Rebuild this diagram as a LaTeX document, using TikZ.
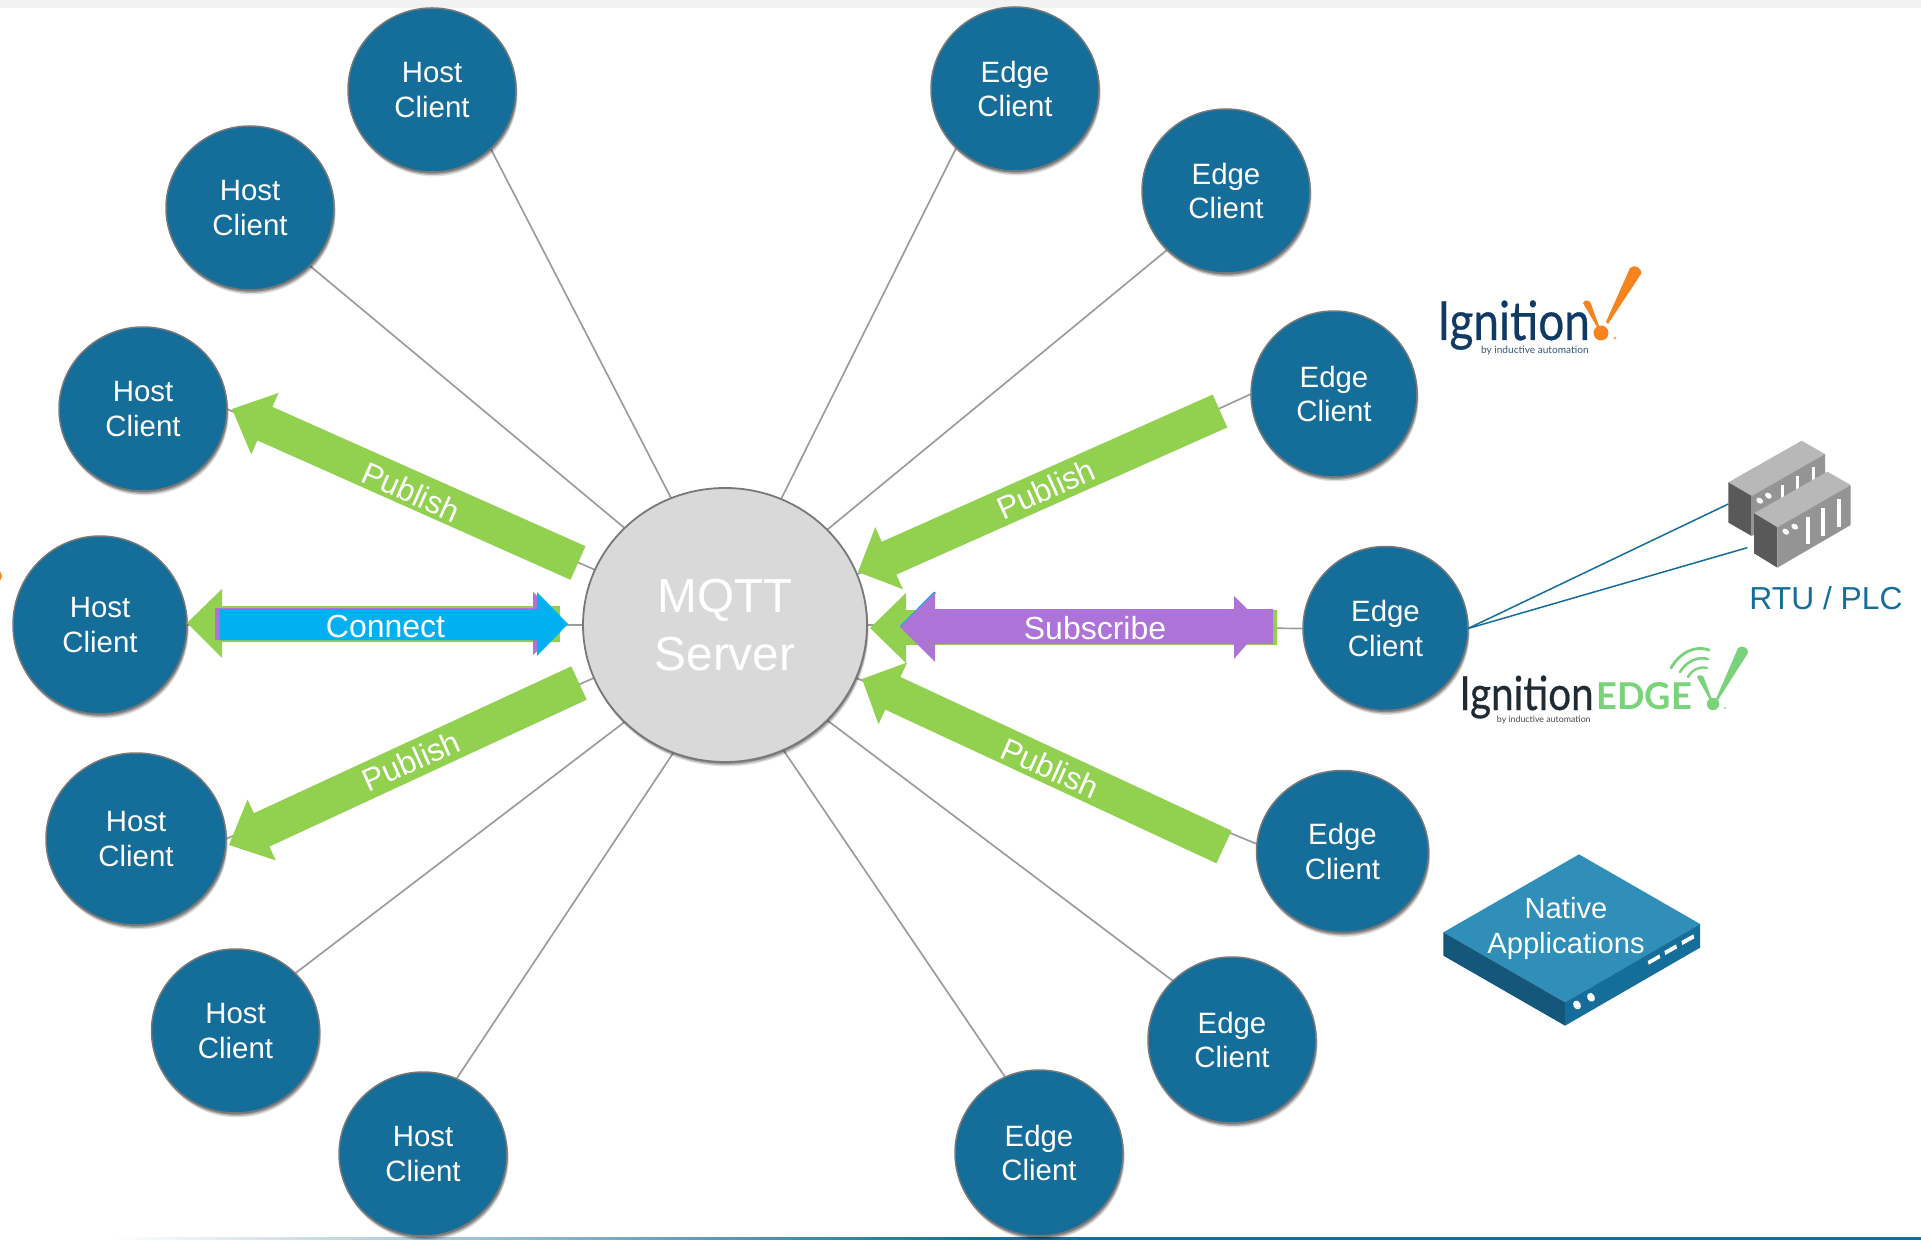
\documentclass[tikz,border=0pt]{standalone}
\usepackage{fontspec}
\usepackage{graphicx}
\setmainfont{Liberation Sans}
\newfontfamily\logofont[FakeBold=0.5]{Lato}
\newfontfamily\edgefont{Lato}
\usetikzlibrary{calc,shapes.geometric,shadows,backgrounds}
\definecolor{clientblue}{HTML}{156D99}
\definecolor{ringgrey}{HTML}{787878}
\definecolor{linkgrey}{HTML}{9C9C9C}
\definecolor{pubgreen}{HTML}{92D050}
\definecolor{connblue}{HTML}{00B0F0}
\definecolor{subpurple}{HTML}{AD73D6}
\definecolor{ignnavy}{HTML}{103A63}
\definecolor{ignorange}{HTML}{F5841F}
\definecolor{edgegreen}{HTML}{7AD37A}
\definecolor{edgedark}{HTML}{1F2A33}
\definecolor{devtop}{HTML}{2F8FB8}
\definecolor{devleft}{HTML}{14577A}
\tikzset{
  softshadow/.style={
    general shadow={shadow xshift=0.8pt,shadow yshift=-2.2pt,fill=black,opacity=.12,scale=1.004},
    general shadow={shadow xshift=0.6pt,shadow yshift=-1.5pt,fill=black,opacity=.2},
    general shadow={shadow xshift=0.3pt,shadow yshift=-0.8pt,fill=black,opacity=.25}},
  client/.style={ellipse,softshadow,draw=ringgrey,line width=0.75pt,fill=clientblue,text=white,
    minimum width=#1,align=center,inner sep=0pt,outer sep=0pt,
    execute at begin node={\rule{0pt}{11.9pt}},
    font={\fontsize{14.7}{17.25}\selectfont}},
  client/.default=84pt,
  link/.style={draw=linkgrey,line width=0.85pt},
  plclink/.style={draw=clientblue,line width=0.75pt},
  arrowlabel/.style={text=white,inner sep=0pt,font={\fontsize{16}{18}\selectfont}},
  publabel/.style={text=white,inner sep=0pt,font={\fontsize{15.8}{18}\selectfont}},
}
\newcommand{\blockarrow}[6]{%
  \coordinate (ba) at ($(#2)!#5!(#1)$);
  \fill[#6] ($(#1)!#3!90:(#2)$) -- ($(ba)!#3!90:(#2)$) -- ($(ba)!#4!90:(#2)$) -- (#2)
    -- ($(ba)!#4!-90:(#2)$) -- ($(ba)!#3!-90:(#2)$) -- ($(#1)!#3!-90:(#2)$) -- cycle;}
\begin{document}
\begin{tikzpicture}[x=0.5pt,y=-0.5pt]
\useasboundingbox (0,0) rectangle (1921,1240);
% clients
\node[client,minimum height=82pt] (h1) at (432,90) {Host\\Client};
\node[client,minimum height=82pt] (h2) at (250,208) {Host\\Client};
\node[client,minimum height=82pt] (h3) at (143,409) {Host\\Client};
\node[client=87pt,minimum height=89pt] (h4) at (100,625) {Host\\Client};
\node[client=90pt,minimum height=86pt] (h5) at (136,839) {Host\\Client};
\node[client,minimum height=82pt] (h6) at (235.5,1031) {Host\\Client};
\node[client,minimum height=82pt] (h7) at (423,1154) {Host\\Client};
\node[client,minimum height=82pt] (e1) at (1015,89) {Edge\\Client};
\node[client,minimum height=82pt] (e2) at (1226,191) {Edge\\Client};
\node[client=83pt,minimum height=83pt] (e3) at (1334,394) {Edge\\Client};
\node[client=82.5pt,minimum height=82pt] (e4) at (1385.5,628.5) {Edge\\Client};
\node[client=86pt,minimum height=81pt] (e5) at (1342.5,851.5) {Edge\\Client};
\node[client,minimum height=83pt] (e6) at (1232,1040) {Edge\\Client};
\node[client,minimum height=83pt] (e7) at (1039,1153) {Edge\\Client};
% server
\node[ellipse,softshadow,draw=ringgrey,line width=0.9pt,fill=black!15,text=white,
  minimum width=142pt,minimum height=137pt,align=center,inner sep=0pt,outer sep=0pt,
  execute at begin node={\rule{0pt}{18.3pt}},
  font={\fontsize{23.9}{29}\selectfont}] (mqtt) at (725,625) {MQTT\\Server};
% background furniture and spokes
\begin{scope}[on background layer]
  \fill[black!5] (0,0) rectangle (1921,8);
  \shade[left color=white,right color=clientblue] (110,1237) rectangle (980,1240);
  \fill[clientblue] (980,1237) rectangle (1921,1240);
  \fill[ignorange] (0,571) -- (2,576) -- (0,581) -- cycle;
  \draw[link] (mqtt.113.4) -- (h1.-45.6);
  \draw[link] (mqtt.136) -- (h2.-44);
  \draw[link] (mqtt.157.4) -- (h3.0);
  \draw[link] (mqtt.180) -- (h4.0);
  \draw[link] (mqtt.202) -- (h5.0);
  \draw[link] (mqtt.224) -- (h6.44);
  \draw[link] (mqtt.248.4) -- (h7.66);
  \draw[link] (mqtt.66.6) -- (e1.225.5);
  \draw[link] (mqtt.43) -- (e2.225);
  \draw[link] (mqtt.21) -- (e3.180);
  \draw[link] (mqtt.0) -- (e4.180);
  \draw[link] (mqtt.-22) -- (e5.175);
  \draw[link] (mqtt.-43) -- (e6.135);
  \draw[link] (mqtt.-65) -- (e7.114);
\end{scope}
% publish arrows
\coordinate (pa) at (578,563); \coordinate (pb) at (232,409);
\blockarrow{pa}{pb}{9.2pt}{16.8pt}{18pt}{pubgreen}
\node[publabel,rotate=-24] (puba) at (411,492) {Publish};
\coordinate (qa) at (579,683); \coordinate (qb) at (229,845);
\blockarrow{qa}{qb}{9.2pt}{16.8pt}{18pt}{pubgreen}
\node[publabel,rotate=24] (pubb) at (411,761) {Publish};
\coordinate (ra) at (1220,411); \coordinate (rb) at (858,572);
\blockarrow{ra}{rb}{9pt}{17pt}{17pt}{pubgreen}
\node[publabel,rotate=24] (pubc) at (1046,489) {Publish};
\coordinate (sa) at (1224,847); \coordinate (sb) at (862,679);
\blockarrow{sa}{sb}{9pt}{17pt}{17pt}{pubgreen}
\node[publabel,rotate=-24] (pubd) at (1050,768) {Publish};
% connect
\fill[pubgreen] (187,623) -- (222,589) -- (222,606) -- (560,606) -- (560,642) -- (222,642) -- (222,658) -- cycle;
\fill[subpurple] (215,608) -- (533,608) -- (533,592) -- (565,624) -- (533,655) -- (533,640) -- (215,640) -- cycle;
\fill[connblue] (219.5,609) -- (537,609) -- (537,592) -- (568,624) -- (537,656) -- (537,640) -- (219.5,640) -- cycle;
\node[arrowlabel] (connect) at (385.5,626.5) {Connect};
% subscribe
\fill[pubgreen] (870,628) -- (906,593) -- (906,610) -- (1277,610) -- (1277,645) -- (906,645) -- (906,663) -- cycle;
\fill[connblue] (899.5,626.5) -- (934,591.5) -- (936,593) -- (902,627) -- cycle;
\fill[subpurple] (900,627) -- (935,592) -- (935,609) -- (1234,609) -- (1234,596) -- (1247,609) -- (1273,609)
  -- (1273,644) -- (1247,644) -- (1234,659) -- (1234,644) -- (935,644) -- (935,662) -- cycle;
\node[arrowlabel] (subscribe) at (1095,628) {Subscribe};
% Ignition logo
\node[anchor=base west,inner sep=0pt,text=ignnavy,font={\logofont\fontsize{27}{27}\selectfont}] (ignword) at (1437,340) {\scalebox{0.85}[1]{Ignition}};
\node[anchor=base east,inner sep=0pt,text=ignnavy!85,font={\edgefont\fontsize{5.05}{6}\selectfont}] (ignby) at (1589,354) {by inductive automation};
\fill[ignorange] (1630,268) .. controls (1634,264) and (1642,267) .. (1641,274) -- (1608,324) -- (1606,322) -- cycle;
\fill[ignorange] (1583,303) .. controls (1585,299) and (1590,300) .. (1591,304) -- (1599,326) -- (1597,327) -- cycle;
\fill[ignorange] (1601,333) circle (7.5);
\fill[ignorange!70] (1615,338) circle (1.6);
% RTU / PLC device
\begin{scope}[shift={(1400,240)},x=0.16667pt,y=-0.16667pt]
  \fill[black!28] (985,727) -- (1205,602) -- (1275,642) -- (1055,768) -- cycle;
  \fill[black!65] (985,727) -- (1055,768) -- (1055,888) -- (985,848) -- cycle;
  \fill[black!42] (1055,768) -- (1275,642) -- (1275,760) -- (1055,888) -- cycle;
  \fill[white,rotate around={-35:(1079,782)}] (1079,782) ellipse (11 and 8);
  \fill[white,rotate around={-35:(1105,767)}] (1105,767) ellipse (11 and 8);
  \fill[white] (1143,735) rectangle (1152,775);
  \fill[white] (1188,708) rectangle (1197,748);
  \fill[white] (1235,682) rectangle (1244,722);
  \fill[black!28] (1062,820) -- (1282,695) -- (1352,735) -- (1132,862) -- cycle;
  \fill[black!65] (1062,820) -- (1132,862) -- (1132,983) -- (1062,940) -- cycle;
  \fill[black!42] (1132,862) -- (1352,735) -- (1352,855) -- (1132,983) -- cycle;
  \fill[white,rotate around={-35:(1157,875)}] (1157,875) ellipse (11 and 8);
  \fill[white,rotate around={-35:(1184,860)}] (1184,860) ellipse (11 and 8);
  \fill[white] (1219,832) rectangle (1229,913);
  \fill[white] (1264,805) rectangle (1274,888);
  \fill[white] (1312,776) rectangle (1322,862);
  \coordinate (plca) at (985,792);
  \coordinate (plcb) at (1042,923);
\end{scope}
\draw[plclink] (e4.0) -- (plca);
\draw[plclink] (e4.0) -- (plcb);
\node[text=clientblue,inner sep=0pt,font={\fontsize{15.9}{18}\selectfont}] (rtu) at (1826,598.5) {RTU / PLC};
% Ignition Edge logo
\node[anchor=base west,inner sep=0pt,text=edgedark,font={\logofont\fontsize{23.5}{23.5}\selectfont}] (edgeword) at (1459,710) {\scalebox{0.86}[1]{Ignition}};
\node[anchor=base west,inner sep=0pt,text=edgegreen,font={\edgefont\bfseries\fontsize{18.5}{20}\selectfont}] (edgename) at (1596,709) {\scalebox{0.98}[1]{EDGE}};
\node[anchor=base east,inner sep=0pt,text=edgedark!85,font={\edgefont\fontsize{4.4}{6}\selectfont}] (edgeby) at (1591,722) {by inductive automation};
\fill[edgegreen] (1738,648) .. controls (1741,645) and (1749,647) .. (1748,653) -- (1718,700) -- (1716,699) -- cycle;
\fill[edgegreen] (1697,677) .. controls (1699,674) and (1703,675) .. (1704,678) -- (1712,700) -- (1710,700) -- cycle;
\fill[edgegreen] (1713,704) circle (6.2);
\fill[edgegreen!70] (1725,708) circle (1.3);
\draw[edgegreen,line width=1.4pt,line cap=round] (1671,668) .. controls (1680,652) and (1696,645) .. (1709,650);
\draw[edgegreen,line width=1.3pt,line cap=round] (1680,672) .. controls (1686,662) and (1697,656) .. (1708,659);
\draw[edgegreen,line width=1.2pt,line cap=round] (1688,677) .. controls (1692,670) and (1699,666) .. (1707,668);
% Native applications device
\begin{scope}[shift={(1400,820)},x=0.16667pt,y=-0.16667pt]
  \fill[devtop] (537,103) -- (900,312) -- (495,547) -- (130,337) -- cycle;
  \fill[devleft] (130,337) -- (495,547) -- (495,617) -- (130,407) -- cycle;
  \fill[clientblue] (495,547) -- (900,312) -- (900,383) -- (495,617) -- cycle;
  \fill[white] (743,423) -- (778,403) -- (781,414) -- (746,434) -- cycle;
  \fill[white] (793,393) -- (828,373) -- (831,385) -- (796,405) -- cycle;
  \fill[white] (844,363) -- (880,343) -- (883,355) -- (847,375) -- cycle;
  \fill[white,rotate around={-60:(531,555)}] (531,555) ellipse (14 and 11);
  \fill[white,rotate around={-60:(573,532)}] (573,532) ellipse (14 and 11);
\end{scope}
\node[text=white,align=center,inner sep=0pt,font={\fontsize{14.6}{17.75}\selectfont}] (native) at (1566,928.5) {Native\hspace{5pt}\\Applications};
\end{tikzpicture}
\end{document}
